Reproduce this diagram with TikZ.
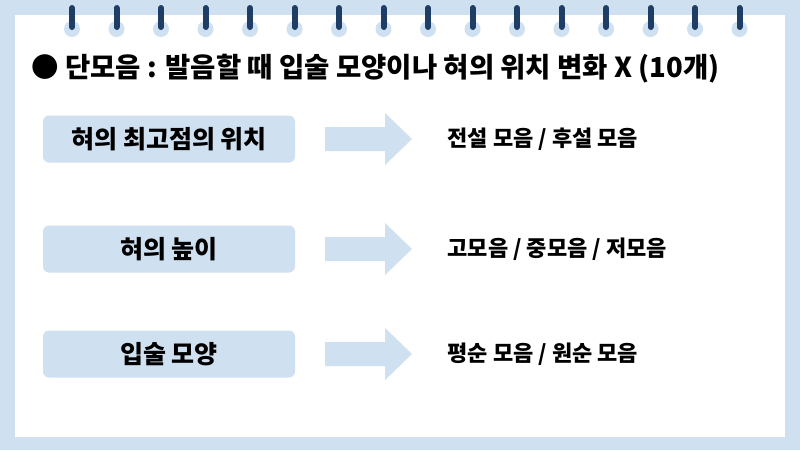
\documentclass[tikz,border=0pt]{standalone}
\usepackage{fontspec}
\setmainfont{Noto Sans CJK KR}
\definecolor{paleblue}{HTML}{CFE0F1}
\definecolor{navy}{HTML}{1F3E66}
\tikzset{
  topic/.style={fill=paleblue, rounded corners=6pt, minimum width=252pt, minimum height=47pt, font=\bfseries\fontsize{25}{25}\selectfont},
  goal/.style={anchor=west, font=\bfseries\fontsize{22}{22}\selectfont},
  ring/.style={fill=paleblue},
  bar/.style={navy, line width=6pt, line cap=round},
  pointer/.style={fill=paleblue}
}
\begin{document}
\begin{tikzpicture}[x=1pt,y=-1pt]
\fill[paleblue] (0,0) rectangle (800,450);
\fill[white] (15,15) rectangle (785,437);
\useasboundingbox (0,0) rectangle (800,450);

% rings along the top
\foreach \i in {0,...,15} {
  \fill[ring] (72+44.5*\i,29) circle (8);
  \draw[bar] (72+44.5*\i,8) -- (72+44.5*\i,27);
}

\node[anchor=west, font=\bfseries\fontsize{27.5}{27.5}\selectfont] (title) at (28,69)
  {● 단모음 : 발음할 때 입술 모양이나 혀의 위치 변화 X (10개)};

\node[topic] (t1) at (169,139) {혀의 최고점의 위치};
\node[topic] (t2) at (169,249) {혀의 높이};
\node[topic] (t3) at (169,354) {입술 모양};

% arrows
\foreach \y/\n in {139/a1,249/a2,354/a3} {
  \fill[pointer] (325,\y-12) -- (385,\y-12) -- (385,\y-26) -- (412,\y)
    -- (385,\y+26) -- (385,\y+12) -- (325,\y+12) -- cycle;
  \coordinate (\n) at (412,\y);
}

\node[goal] (g1) at (444,139) {전설 모음 / 후설 모음};
\node[goal] (g2) at (444,249) {고모음 / 중모음 / 저모음};
\node[goal] (g3) at (444,354) {평순 모음 / 원순 모음};
\end{tikzpicture}
\end{document}
